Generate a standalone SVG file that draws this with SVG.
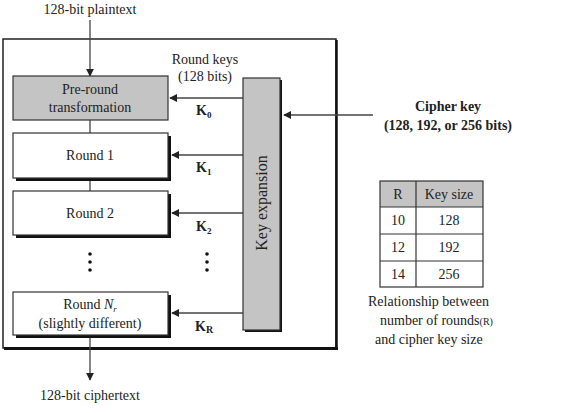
<svg xmlns="http://www.w3.org/2000/svg" width="569" height="413" viewBox="0 0 569 413">
<style>
text{font-family:"Liberation Serif","Times New Roman",serif;font-size:14px;fill:#222}
.c{text-anchor:middle}
.b{font-weight:bold}
.big{font-size:16px}
.box{fill:#fff;stroke:#333;stroke-width:1.2}
.gray{fill:#c4c4c4;stroke:#333;stroke-width:1.2}
.sh{fill:#111}
.ln{stroke:#444;stroke-width:1.3;fill:none}
.dot{fill:#111}
</style>
<defs>
<marker id="ah" viewBox="0 0 10 10" refX="9" refY="5" markerWidth="8" markerHeight="8" markerUnits="userSpaceOnUse" orient="auto">
<path d="M0,0 L10,5 L0,10 z" fill="#222"/>
</marker>
</defs>
<g id="frame">
<rect x="3" y="39" width="333" height="309" fill="#fff" stroke="#222" stroke-width="1.5"/>
<line x1="4" y1="348.5" x2="338" y2="348.5" stroke="#111" stroke-width="3"/>
<line x1="336.5" y1="40" x2="336.5" y2="350" stroke="#111" stroke-width="2.5"/>
</g>
<g id="connectors">
<line class="ln" x1="90" y1="20" x2="90" y2="76" marker-end="url(#ah)"/>
<line class="ln" x1="90" y1="120" x2="90" y2="133"/>
<line class="ln" x1="90" y1="178" x2="90" y2="191"/>
<line class="ln" x1="90" y1="335" x2="90" y2="380" marker-end="url(#ah)"/>
<line class="ln" x1="243" y1="98" x2="170" y2="98" marker-end="url(#ah)"/>
<line class="ln" x1="243" y1="155" x2="172" y2="155" marker-end="url(#ah)"/>
<line class="ln" x1="243" y1="213" x2="172" y2="213" marker-end="url(#ah)"/>
<line class="ln" x1="243" y1="313" x2="172" y2="313" marker-end="url(#ah)"/>
<line class="ln" x1="373" y1="115" x2="284" y2="115" marker-end="url(#ah)"/>
</g>
<g id="plaintext"><text class="c" x="90" y="14">128-bit plaintext</text></g>
<g id="ciphertext"><text class="c" x="90" y="400">128-bit ciphertext</text></g>
<g id="preround">
<rect class="gray" x="13" y="76" width="155" height="44"/>
<text class="c" x="90" y="94">Pre-round</text>
<text class="c" x="90" y="112">transformation</text>
</g>
<g id="round1">
<rect class="sh" x="16" y="136" width="155" height="45"/>
<rect class="box" x="13" y="133" width="155" height="45"/>
<text class="c" x="90" y="160">Round 1</text>
</g>
<g id="round2">
<rect class="sh" x="16" y="194" width="155" height="44"/>
<rect class="box" x="13" y="191" width="155" height="44"/>
<text class="c" x="90" y="218">Round 2</text>
</g>
<g id="roundNr">
<rect class="sh" x="16" y="295" width="155" height="43"/>
<rect class="box" x="13" y="292" width="155" height="43"/>
<text class="c" x="90" y="309">Round <tspan font-style="italic">N</tspan><tspan font-style="italic" font-size="9" dy="3">r</tspan></text>
<text class="c" x="90" y="328">(slightly different)</text>
</g>
<g id="dots">
<circle class="dot" cx="90" cy="254" r="1.8"/>
<circle class="dot" cx="90" cy="262" r="1.8"/>
<circle class="dot" cx="90" cy="270" r="1.8"/>
<circle class="dot" cx="207" cy="254" r="1.8"/>
<circle class="dot" cx="207" cy="262" r="1.8"/>
<circle class="dot" cx="207" cy="270" r="1.8"/>
</g>
<g id="keyexp">
<rect class="sh" x="245" y="80" width="37" height="252"/>
<rect class="gray" x="243" y="78" width="37" height="252"/>
<text class="c big" transform="translate(267,203) rotate(-90)">Key expansion</text>
</g>
<g id="roundkeys">
<text class="c" x="205" y="64">Round keys</text>
<text class="c" x="205" y="81">(128 bits)</text>
</g>
<g id="klabels">
<text class="b" x="196" y="115">K<tspan font-size="9" dy="3">0</tspan></text>
<text class="b" x="196" y="172">K<tspan font-size="9" dy="3">1</tspan></text>
<text class="b" x="196" y="231">K<tspan font-size="9" dy="3">2</tspan></text>
<text class="b" x="195" y="331">K<tspan font-size="10" dy="2">R</tspan></text>
</g>
<g id="cipherkey">
<text class="c b" x="448" y="111">Cipher key</text>
<text class="c b" x="448" y="130">(128, 192, or 256 bits)</text>
</g>
<g id="table">
<rect x="380" y="181" width="103" height="26" fill="#c4c4c4"/>
<rect x="380" y="181" width="103" height="106" fill="none" stroke="#333" stroke-width="1.2"/>
<line x1="416" y1="181" x2="416" y2="287" stroke="#333" stroke-width="1.2"/>
<line x1="380" y1="207" x2="483" y2="207" stroke="#333" stroke-width="1.2"/>
<line x1="380" y1="234" x2="483" y2="234" stroke="#333" stroke-width="1.2"/>
<line x1="380" y1="261" x2="483" y2="261" stroke="#333" stroke-width="1.2"/>
<text class="c" x="398" y="199">R</text>
<text class="c" x="449" y="199">Key size</text>
<text class="c" x="398" y="225">10</text>
<text class="c" x="449" y="225">128</text>
<text class="c" x="398" y="252">12</text>
<text class="c" x="449" y="252">192</text>
<text class="c" x="398" y="279">14</text>
<text class="c" x="449" y="279">256</text>
</g>
<g id="caption">
<text x="368" y="306">Relationship between</text>
<text x="380" y="325">number of rounds<tspan font-size="10">(R)</tspan></text>
<text x="375" y="344">and cipher key size</text>
</g>
</svg>
